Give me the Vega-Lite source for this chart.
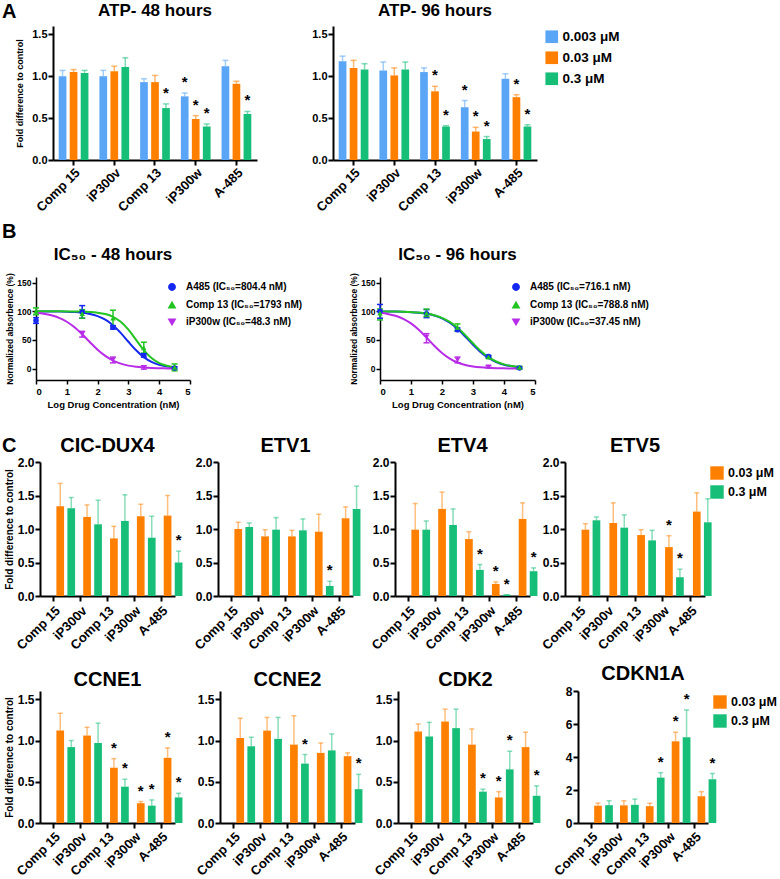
{
"$schema": "https://vega.github.io/schema/vega-lite/v6.json",
"background": "white",
"padding": {"left": 2, "top": 2, "right": 0, "bottom": 0},
"config": {
 "font": "Liberation Sans",
 "view": {"stroke": null},
 "bar": {"opacity": 1},
 "axis": {"grid": false, "domainColor": "black", "domainWidth": 2, "tickColor": "black", "tickWidth": 2, "tickSize": 5, "labelFont": "Liberation Sans", "labelFontWeight": "bold", "labelColor": "black", "titleFont": "Liberation Sans", "titleFontWeight": "bold", "titleColor": "black"},
 "title": {"font": "Liberation Sans", "fontWeight": "bold", "color": "black"},
 "legend": {"labelFont": "Liberation Sans", "labelFontWeight": "bold", "labelColor": "black", "labelLimit": 300, "symbolOpacity": 1}
},
"datasets": {
 "atp": [
  {"t":"48","d":"Comp 15","c":"0.003 μM","v":1.00,"e":1.07,"s":""},
  {"t":"48","d":"Comp 15","c":"0.03 μM","v":1.05,"e":1.08,"s":""},
  {"t":"48","d":"Comp 15","c":"0.3 μM","v":1.04,"e":1.07,"s":""},
  {"t":"48","d":"iP300v","c":"0.003 μM","v":1.00,"e":1.07,"s":""},
  {"t":"48","d":"iP300v","c":"0.03 μM","v":1.06,"e":1.12,"s":""},
  {"t":"48","d":"iP300v","c":"0.3 μM","v":1.11,"e":1.22,"s":""},
  {"t":"48","d":"Comp 13","c":"0.003 μM","v":0.93,"e":0.97,"s":""},
  {"t":"48","d":"Comp 13","c":"0.03 μM","v":0.93,"e":1.01,"s":""},
  {"t":"48","d":"Comp 13","c":"0.3 μM","v":0.62,"e":0.67,"s":"*"},
  {"t":"48","d":"iP300w","c":"0.003 μM","v":0.76,"e":0.80,"s":"*"},
  {"t":"48","d":"iP300w","c":"0.03 μM","v":0.49,"e":0.53,"s":"*"},
  {"t":"48","d":"iP300w","c":"0.3 μM","v":0.40,"e":0.43,"s":"*"},
  {"t":"48","d":"A-485","c":"0.003 μM","v":1.12,"e":1.19,"s":""},
  {"t":"48","d":"A-485","c":"0.03 μM","v":0.91,"e":0.94,"s":""},
  {"t":"48","d":"A-485","c":"0.3 μM","v":0.55,"e":0.58,"s":"*"},
  {"t":"96","d":"Comp 15","c":"0.003 μM","v":1.18,"e":1.24,"s":""},
  {"t":"96","d":"Comp 15","c":"0.03 μM","v":1.10,"e":1.19,"s":""},
  {"t":"96","d":"Comp 15","c":"0.3 μM","v":1.08,"e":1.15,"s":""},
  {"t":"96","d":"iP300v","c":"0.003 μM","v":1.07,"e":1.17,"s":""},
  {"t":"96","d":"iP300v","c":"0.03 μM","v":1.01,"e":1.10,"s":""},
  {"t":"96","d":"iP300v","c":"0.3 μM","v":1.08,"e":1.17,"s":""},
  {"t":"96","d":"Comp 13","c":"0.003 μM","v":1.05,"e":1.10,"s":""},
  {"t":"96","d":"Comp 13","c":"0.03 μM","v":0.82,"e":0.88,"s":"*"},
  {"t":"96","d":"Comp 13","c":"0.3 μM","v":0.40,"e":0.41,"s":"*"},
  {"t":"96","d":"iP300w","c":"0.003 μM","v":0.63,"e":0.71,"s":"*"},
  {"t":"96","d":"iP300w","c":"0.03 μM","v":0.34,"e":0.39,"s":"*"},
  {"t":"96","d":"iP300w","c":"0.3 μM","v":0.25,"e":0.28,"s":"*"},
  {"t":"96","d":"A-485","c":"0.003 μM","v":0.97,"e":1.03,"s":""},
  {"t":"96","d":"A-485","c":"0.03 μM","v":0.75,"e":0.78,"s":"*"},
  {"t":"96","d":"A-485","c":"0.3 μM","v":0.40,"e":0.42,"s":"*"}
 ],
 "icfit": [
  {"t":"48","l":"A485 (IC₅₀=804.4 nM)","x":0,"y":99.9},{"t":"48","l":"A485 (IC₅₀=804.4 nM)","x":0.25,"y":99.9},{"t":"48","l":"A485 (IC₅₀=804.4 nM)","x":0.5,"y":99.8},{"t":"48","l":"A485 (IC₅₀=804.4 nM)","x":0.75,"y":99.6},{"t":"48","l":"A485 (IC₅₀=804.4 nM)","x":1,"y":99.3},{"t":"48","l":"A485 (IC₅₀=804.4 nM)","x":1.25,"y":98.7},{"t":"48","l":"A485 (IC₅₀=804.4 nM)","x":1.5,"y":97.5},{"t":"48","l":"A485 (IC₅₀=804.4 nM)","x":1.75,"y":95.4},{"t":"48","l":"A485 (IC₅₀=804.4 nM)","x":2,"y":91.7},{"t":"48","l":"A485 (IC₅₀=804.4 nM)","x":2.25,"y":85.5},{"t":"48","l":"A485 (IC₅₀=804.4 nM)","x":2.5,"y":75.8},{"t":"48","l":"A485 (IC₅₀=804.4 nM)","x":2.75,"y":62.4},{"t":"48","l":"A485 (IC₅₀=804.4 nM)","x":3,"y":46.8},{"t":"48","l":"A485 (IC₅₀=804.4 nM)","x":3.25,"y":31.9},{"t":"48","l":"A485 (IC₅₀=804.4 nM)","x":3.5,"y":19.9},{"t":"48","l":"A485 (IC₅₀=804.4 nM)","x":3.75,"y":11.6},{"t":"48","l":"A485 (IC₅₀=804.4 nM)","x":4,"y":6.5},{"t":"48","l":"A485 (IC₅₀=804.4 nM)","x":4.25,"y":3.6},{"t":"48","l":"A485 (IC₅₀=804.4 nM)","x":4.5,"y":1.9},
  {"t":"48","l":"Comp 13 (IC₅₀=1793 nM)","x":0,"y":100},{"t":"48","l":"Comp 13 (IC₅₀=1793 nM)","x":0.5,"y":100},{"t":"48","l":"Comp 13 (IC₅₀=1793 nM)","x":1,"y":99.9},{"t":"48","l":"Comp 13 (IC₅₀=1793 nM)","x":1.25,"y":99.7},{"t":"48","l":"Comp 13 (IC₅₀=1793 nM)","x":1.5,"y":99.5},{"t":"48","l":"Comp 13 (IC₅₀=1793 nM)","x":1.75,"y":98.9},{"t":"48","l":"Comp 13 (IC₅₀=1793 nM)","x":2,"y":97.7},{"t":"48","l":"Comp 13 (IC₅₀=1793 nM)","x":2.25,"y":95.2},{"t":"48","l":"Comp 13 (IC₅₀=1793 nM)","x":2.5,"y":90.4},{"t":"48","l":"Comp 13 (IC₅₀=1793 nM)","x":2.75,"y":81.7},{"t":"48","l":"Comp 13 (IC₅₀=1793 nM)","x":3,"y":67.9},{"t":"48","l":"Comp 13 (IC₅₀=1793 nM)","x":3.25,"y":50},{"t":"48","l":"Comp 13 (IC₅₀=1793 nM)","x":3.5,"y":32.1},{"t":"48","l":"Comp 13 (IC₅₀=1793 nM)","x":3.75,"y":18.3},{"t":"48","l":"Comp 13 (IC₅₀=1793 nM)","x":4,"y":9.6},{"t":"48","l":"Comp 13 (IC₅₀=1793 nM)","x":4.25,"y":4.8},{"t":"48","l":"Comp 13 (IC₅₀=1793 nM)","x":4.5,"y":2.3},
  {"t":"48","l":"iP300w (IC₅₀=48.3 nM)","x":0,"y":97.6},{"t":"48","l":"iP300w (IC₅₀=48.3 nM)","x":0.25,"y":95.9},{"t":"48","l":"iP300w (IC₅₀=48.3 nM)","x":0.5,"y":93.1},{"t":"48","l":"iP300w (IC₅₀=48.3 nM)","x":0.75,"y":88.7},{"t":"48","l":"iP300w (IC₅₀=48.3 nM)","x":1,"y":81.8},{"t":"48","l":"iP300w (IC₅₀=48.3 nM)","x":1.25,"y":72.1},{"t":"48","l":"iP300w (IC₅₀=48.3 nM)","x":1.5,"y":59.8},{"t":"48","l":"iP300w (IC₅₀=48.3 nM)","x":1.75,"y":46.1},{"t":"48","l":"iP300w (IC₅₀=48.3 nM)","x":2,"y":33.0},{"t":"48","l":"iP300w (IC₅₀=48.3 nM)","x":2.25,"y":22.1},{"t":"48","l":"iP300w (IC₅₀=48.3 nM)","x":2.5,"y":14.0},{"t":"48","l":"iP300w (IC₅₀=48.3 nM)","x":2.75,"y":8.6},{"t":"48","l":"iP300w (IC₅₀=48.3 nM)","x":3,"y":5.1},{"t":"48","l":"iP300w (IC₅₀=48.3 nM)","x":3.25,"y":3.0},{"t":"48","l":"iP300w (IC₅₀=48.3 nM)","x":3.5,"y":1.8},{"t":"48","l":"iP300w (IC₅₀=48.3 nM)","x":3.75,"y":1.0},{"t":"48","l":"iP300w (IC₅₀=48.3 nM)","x":4,"y":0.6},{"t":"48","l":"iP300w (IC₅₀=48.3 nM)","x":4.25,"y":0.3},{"t":"48","l":"iP300w (IC₅₀=48.3 nM)","x":4.5,"y":0.2},
  {"t":"96","l":"A485 (IC₅₀=716.1 nM)","x":0,"y":99.9},{"t":"96","l":"A485 (IC₅₀=716.1 nM)","x":0.25,"y":99.8},{"t":"96","l":"A485 (IC₅₀=716.1 nM)","x":0.5,"y":99.6},{"t":"96","l":"A485 (IC₅₀=716.1 nM)","x":0.75,"y":99.2},{"t":"96","l":"A485 (IC₅₀=716.1 nM)","x":1,"y":98.6},{"t":"96","l":"A485 (IC₅₀=716.1 nM)","x":1.25,"y":97.6},{"t":"96","l":"A485 (IC₅₀=716.1 nM)","x":1.5,"y":95.8},{"t":"96","l":"A485 (IC₅₀=716.1 nM)","x":1.75,"y":92.7},{"t":"96","l":"A485 (IC₅₀=716.1 nM)","x":2,"y":87.7},{"t":"96","l":"A485 (IC₅₀=716.1 nM)","x":2.25,"y":80.1},{"t":"96","l":"A485 (IC₅₀=716.1 nM)","x":2.5,"y":69.4},{"t":"96","l":"A485 (IC₅₀=716.1 nM)","x":2.75,"y":56.0},{"t":"96","l":"A485 (IC₅₀=716.1 nM)","x":3,"y":41.7},{"t":"96","l":"A485 (IC₅₀=716.1 nM)","x":3.25,"y":28.7},{"t":"96","l":"A485 (IC₅₀=716.1 nM)","x":3.5,"y":18.5},{"t":"96","l":"A485 (IC₅₀=716.1 nM)","x":3.75,"y":11.3},{"t":"96","l":"A485 (IC₅₀=716.1 nM)","x":4,"y":6.7},{"t":"96","l":"A485 (IC₅₀=716.1 nM)","x":4.25,"y":3.9},{"t":"96","l":"A485 (IC₅₀=716.1 nM)","x":4.5,"y":2.2},
  {"t":"96","l":"Comp 13 (IC₅₀=788.8 nM)","x":0,"y":99.9},{"t":"96","l":"Comp 13 (IC₅₀=788.8 nM)","x":0.25,"y":99.8},{"t":"96","l":"Comp 13 (IC₅₀=788.8 nM)","x":0.5,"y":99.6},{"t":"96","l":"Comp 13 (IC₅₀=788.8 nM)","x":0.75,"y":99.3},{"t":"96","l":"Comp 13 (IC₅₀=788.8 nM)","x":1,"y":98.7},{"t":"96","l":"Comp 13 (IC₅₀=788.8 nM)","x":1.25,"y":97.8},{"t":"96","l":"Comp 13 (IC₅₀=788.8 nM)","x":1.5,"y":96.1},{"t":"96","l":"Comp 13 (IC₅₀=788.8 nM)","x":1.75,"y":93.3},{"t":"96","l":"Comp 13 (IC₅₀=788.8 nM)","x":2,"y":88.7},{"t":"96","l":"Comp 13 (IC₅₀=788.8 nM)","x":2.25,"y":81.6},{"t":"96","l":"Comp 13 (IC₅₀=788.8 nM)","x":2.5,"y":71.4},{"t":"96","l":"Comp 13 (IC₅₀=788.8 nM)","x":2.75,"y":58.4},{"t":"96","l":"Comp 13 (IC₅₀=788.8 nM)","x":3,"y":44.1},{"t":"96","l":"Comp 13 (IC₅₀=788.8 nM)","x":3.25,"y":30.7},{"t":"96","l":"Comp 13 (IC₅₀=788.8 nM)","x":3.5,"y":20.0},{"t":"96","l":"Comp 13 (IC₅₀=788.8 nM)","x":3.75,"y":12.3},{"t":"96","l":"Comp 13 (IC₅₀=788.8 nM)","x":4,"y":7.3},{"t":"96","l":"Comp 13 (IC₅₀=788.8 nM)","x":4.25,"y":4.3},{"t":"96","l":"Comp 13 (IC₅₀=788.8 nM)","x":4.5,"y":2.4},
  {"t":"96","l":"iP300w (IC₅₀=37.45 nM)","x":0,"y":97.4},{"t":"96","l":"iP300w (IC₅₀=37.45 nM)","x":0.25,"y":95.5},{"t":"96","l":"iP300w (IC₅₀=37.45 nM)","x":0.5,"y":92.2},{"t":"96","l":"iP300w (IC₅₀=37.45 nM)","x":0.75,"y":86.9},{"t":"96","l":"iP300w (IC₅₀=37.45 nM)","x":1,"y":78.9},{"t":"96","l":"iP300w (IC₅₀=37.45 nM)","x":1.25,"y":67.8},{"t":"96","l":"iP300w (IC₅₀=37.45 nM)","x":1.5,"y":54.2},{"t":"96","l":"iP300w (IC₅₀=37.45 nM)","x":1.75,"y":40.0},{"t":"96","l":"iP300w (IC₅₀=37.45 nM)","x":2,"y":27.2},{"t":"96","l":"iP300w (IC₅₀=37.45 nM)","x":2.25,"y":17.4},{"t":"96","l":"iP300w (IC₅₀=37.45 nM)","x":2.5,"y":10.6},{"t":"96","l":"iP300w (IC₅₀=37.45 nM)","x":2.75,"y":6.2},{"t":"96","l":"iP300w (IC₅₀=37.45 nM)","x":3,"y":3.6},{"t":"96","l":"iP300w (IC₅₀=37.45 nM)","x":3.25,"y":2.1},{"t":"96","l":"iP300w (IC₅₀=37.45 nM)","x":3.5,"y":1.2},{"t":"96","l":"iP300w (IC₅₀=37.45 nM)","x":3.75,"y":0.7},{"t":"96","l":"iP300w (IC₅₀=37.45 nM)","x":4,"y":0.4},{"t":"96","l":"iP300w (IC₅₀=37.45 nM)","x":4.25,"y":0.2},{"t":"96","l":"iP300w (IC₅₀=37.45 nM)","x":4.5,"y":0.1}
 ],
 "icpts": [
  {"t":"48","l":"A485 (IC₅₀=804.4 nM)","x":0,"y":84,"lo":79,"hi":89},
  {"t":"48","l":"A485 (IC₅₀=804.4 nM)","x":1.5,"y":99,"lo":88,"hi":110},
  {"t":"48","l":"A485 (IC₅₀=804.4 nM)","x":2.5,"y":72,"lo":69,"hi":75},
  {"t":"48","l":"A485 (IC₅₀=804.4 nM)","x":3.5,"y":23,"lo":20,"hi":26},
  {"t":"48","l":"A485 (IC₅₀=804.4 nM)","x":4.5,"y":1,"lo":-1,"hi":3},
  {"t":"48","l":"Comp 13 (IC₅₀=1793 nM)","x":0,"y":100,"lo":94,"hi":106},
  {"t":"48","l":"Comp 13 (IC₅₀=1793 nM)","x":1.5,"y":96,"lo":88,"hi":103},
  {"t":"48","l":"Comp 13 (IC₅₀=1793 nM)","x":2.5,"y":88,"lo":75,"hi":102},
  {"t":"48","l":"Comp 13 (IC₅₀=1793 nM)","x":3.5,"y":36,"lo":27,"hi":46},
  {"t":"48","l":"Comp 13 (IC₅₀=1793 nM)","x":4.5,"y":2,"lo":-4,"hi":8},
  {"t":"48","l":"iP300w (IC₅₀=48.3 nM)","x":1.5,"y":60,"lo":55,"hi":65},
  {"t":"48","l":"iP300w (IC₅₀=48.3 nM)","x":2.5,"y":15,"lo":10,"hi":20},
  {"t":"48","l":"iP300w (IC₅₀=48.3 nM)","x":3.5,"y":2,"lo":-1,"hi":5},
  {"t":"96","l":"A485 (IC₅₀=716.1 nM)","x":0,"y":100,"lo":88,"hi":112},
  {"t":"96","l":"A485 (IC₅₀=716.1 nM)","x":1.5,"y":96,"lo":89,"hi":103},
  {"t":"96","l":"A485 (IC₅₀=716.1 nM)","x":2.5,"y":68,"lo":65,"hi":71},
  {"t":"96","l":"A485 (IC₅₀=716.1 nM)","x":3.5,"y":21,"lo":19,"hi":23},
  {"t":"96","l":"A485 (IC₅₀=716.1 nM)","x":4.5,"y":1,"lo":-1,"hi":3},
  {"t":"96","l":"Comp 13 (IC₅₀=788.8 nM)","x":0,"y":97,"lo":85,"hi":104},
  {"t":"96","l":"Comp 13 (IC₅₀=788.8 nM)","x":1.5,"y":97,"lo":91,"hi":104},
  {"t":"96","l":"Comp 13 (IC₅₀=788.8 nM)","x":2.5,"y":72,"lo":66,"hi":78},
  {"t":"96","l":"Comp 13 (IC₅₀=788.8 nM)","x":3.5,"y":20,"lo":18,"hi":22},
  {"t":"96","l":"Comp 13 (IC₅₀=788.8 nM)","x":4.5,"y":2,"lo":0,"hi":4},
  {"t":"96","l":"iP300w (IC₅₀=37.45 nM)","x":1.5,"y":55,"lo":45,"hi":61},
  {"t":"96","l":"iP300w (IC₅₀=37.45 nM)","x":2.5,"y":15,"lo":10,"hi":20},
  {"t":"96","l":"iP300w (IC₅₀=37.45 nM)","x":3.5,"y":3,"lo":1,"hi":5}
 ],
 "gene": [
  {"g":"CIC-DUX4","d":"Comp 15","c":"0.03 μM","v":1.34,"e":1.68,"s":""},{"g":"CIC-DUX4","d":"Comp 15","c":"0.3 μM","v":1.31,"e":1.47,"s":""},
  {"g":"CIC-DUX4","d":"iP300v","c":"0.03 μM","v":1.18,"e":1.36,"s":""},{"g":"CIC-DUX4","d":"iP300v","c":"0.3 μM","v":1.07,"e":1.43,"s":""},
  {"g":"CIC-DUX4","d":"Comp 13","c":"0.03 μM","v":0.86,"e":1.04,"s":""},{"g":"CIC-DUX4","d":"Comp 13","c":"0.3 μM","v":1.12,"e":1.51,"s":""},
  {"g":"CIC-DUX4","d":"iP300w","c":"0.03 μM","v":1.19,"e":1.37,"s":""},{"g":"CIC-DUX4","d":"iP300w","c":"0.3 μM","v":0.87,"e":1.19,"s":""},
  {"g":"CIC-DUX4","d":"A-485","c":"0.03 μM","v":1.20,"e":1.50,"s":""},{"g":"CIC-DUX4","d":"A-485","c":"0.3 μM","v":0.50,"e":0.67,"s":"*"},
  {"g":"ETV1","d":"Comp 15","c":"0.03 μM","v":1.00,"e":1.10,"s":""},{"g":"ETV1","d":"Comp 15","c":"0.3 μM","v":1.03,"e":1.09,"s":""},
  {"g":"ETV1","d":"iP300v","c":"0.03 μM","v":0.89,"e":0.99,"s":""},{"g":"ETV1","d":"iP300v","c":"0.3 μM","v":0.99,"e":1.17,"s":""},
  {"g":"ETV1","d":"Comp 13","c":"0.03 μM","v":0.89,"e":0.98,"s":""},{"g":"ETV1","d":"Comp 13","c":"0.3 μM","v":0.98,"e":1.15,"s":""},
  {"g":"ETV1","d":"iP300w","c":"0.03 μM","v":0.96,"e":1.22,"s":""},{"g":"ETV1","d":"iP300w","c":"0.3 μM","v":0.15,"e":0.22,"s":"*"},
  {"g":"ETV1","d":"A-485","c":"0.03 μM","v":1.16,"e":1.33,"s":""},{"g":"ETV1","d":"A-485","c":"0.3 μM","v":1.30,"e":1.64,"s":""},
  {"g":"ETV4","d":"Comp 15","c":"0.03 μM","v":0.99,"e":1.38,"s":""},{"g":"ETV4","d":"Comp 15","c":"0.3 μM","v":0.99,"e":1.12,"s":""},
  {"g":"ETV4","d":"iP300v","c":"0.03 μM","v":1.30,"e":1.55,"s":""},{"g":"ETV4","d":"iP300v","c":"0.3 μM","v":1.06,"e":1.30,"s":""},
  {"g":"ETV4","d":"Comp 13","c":"0.03 μM","v":0.85,"e":0.96,"s":""},{"g":"ETV4","d":"Comp 13","c":"0.3 μM","v":0.39,"e":0.47,"s":"*"},
  {"g":"ETV4","d":"iP300w","c":"0.03 μM","v":0.18,"e":0.21,"s":"*"},{"g":"ETV4","d":"iP300w","c":"0.3 μM","v":0.02,"e":0.02,"s":"*"},
  {"g":"ETV4","d":"A-485","c":"0.03 μM","v":1.15,"e":1.39,"s":""},{"g":"ETV4","d":"A-485","c":"0.3 μM","v":0.37,"e":0.42,"s":"*"},
  {"g":"ETV5","d":"Comp 15","c":"0.03 μM","v":0.99,"e":1.08,"s":""},{"g":"ETV5","d":"Comp 15","c":"0.3 μM","v":1.13,"e":1.18,"s":""},
  {"g":"ETV5","d":"iP300v","c":"0.03 μM","v":1.09,"e":1.39,"s":""},{"g":"ETV5","d":"iP300v","c":"0.3 μM","v":1.02,"e":1.21,"s":""},
  {"g":"ETV5","d":"Comp 13","c":"0.03 μM","v":0.91,"e":0.99,"s":""},{"g":"ETV5","d":"Comp 13","c":"0.3 μM","v":0.83,"e":0.98,"s":""},
  {"g":"ETV5","d":"iP300w","c":"0.03 μM","v":0.73,"e":0.90,"s":"*"},{"g":"ETV5","d":"iP300w","c":"0.3 μM","v":0.28,"e":0.40,"s":"*"},
  {"g":"ETV5","d":"A-485","c":"0.03 μM","v":1.26,"e":1.54,"s":""},{"g":"ETV5","d":"A-485","c":"0.3 μM","v":1.10,"e":1.45,"s":""},
  {"g":"CCNE1","d":"Comp 15","c":"0.03 μM","v":1.12,"e":1.33,"s":""},{"g":"CCNE1","d":"Comp 15","c":"0.3 μM","v":0.92,"e":1.00,"s":""},
  {"g":"CCNE1","d":"iP300v","c":"0.03 μM","v":1.06,"e":1.16,"s":""},{"g":"CCNE1","d":"iP300v","c":"0.3 μM","v":0.97,"e":1.21,"s":""},
  {"g":"CCNE1","d":"Comp 13","c":"0.03 μM","v":0.67,"e":0.78,"s":"*"},{"g":"CCNE1","d":"Comp 13","c":"0.3 μM","v":0.44,"e":0.53,"s":"*"},
  {"g":"CCNE1","d":"iP300w","c":"0.03 μM","v":0.24,"e":0.26,"s":"*"},{"g":"CCNE1","d":"iP300w","c":"0.3 μM","v":0.21,"e":0.28,"s":"*"},
  {"g":"CCNE1","d":"A-485","c":"0.03 μM","v":0.79,"e":0.91,"s":"*"},{"g":"CCNE1","d":"A-485","c":"0.3 μM","v":0.31,"e":0.36,"s":"*"},
  {"g":"CCNE2","d":"Comp 15","c":"0.03 μM","v":1.03,"e":1.27,"s":""},{"g":"CCNE2","d":"Comp 15","c":"0.3 μM","v":0.93,"e":1.04,"s":""},
  {"g":"CCNE2","d":"iP300v","c":"0.03 μM","v":1.12,"e":1.28,"s":""},{"g":"CCNE2","d":"iP300v","c":"0.3 μM","v":1.02,"e":1.28,"s":""},
  {"g":"CCNE2","d":"Comp 13","c":"0.03 μM","v":0.95,"e":1.30,"s":""},{"g":"CCNE2","d":"Comp 13","c":"0.3 μM","v":0.72,"e":0.83,"s":"*"},
  {"g":"CCNE2","d":"iP300w","c":"0.03 μM","v":0.85,"e":0.97,"s":""},{"g":"CCNE2","d":"iP300w","c":"0.3 μM","v":0.88,"e":1.08,"s":""},
  {"g":"CCNE2","d":"A-485","c":"0.03 μM","v":0.81,"e":0.85,"s":""},{"g":"CCNE2","d":"A-485","c":"0.3 μM","v":0.41,"e":0.59,"s":"*"},
  {"g":"CDK2","d":"Comp 15","c":"0.03 μM","v":1.11,"e":1.20,"s":""},{"g":"CDK2","d":"Comp 15","c":"0.3 μM","v":1.05,"e":1.22,"s":""},
  {"g":"CDK2","d":"iP300v","c":"0.03 μM","v":1.23,"e":1.38,"s":""},{"g":"CDK2","d":"iP300v","c":"0.3 μM","v":1.15,"e":1.38,"s":""},
  {"g":"CDK2","d":"Comp 13","c":"0.03 μM","v":0.95,"e":1.14,"s":""},{"g":"CDK2","d":"Comp 13","c":"0.3 μM","v":0.38,"e":0.41,"s":"*"},
  {"g":"CDK2","d":"iP300w","c":"0.03 μM","v":0.31,"e":0.38,"s":"*"},{"g":"CDK2","d":"iP300w","c":"0.3 μM","v":0.65,"e":0.87,"s":"*"},
  {"g":"CDK2","d":"A-485","c":"0.03 μM","v":0.92,"e":1.10,"s":""},{"g":"CDK2","d":"A-485","c":"0.3 μM","v":0.33,"e":0.45,"s":"*"},
  {"g":"CDKN1A","d":"Comp 15","c":"0.03 μM","v":1.05,"e":1.20,"s":""},{"g":"CDKN1A","d":"Comp 15","c":"0.3 μM","v":1.08,"e":1.35,"s":""},
  {"g":"CDKN1A","d":"iP300v","c":"0.03 μM","v":1.07,"e":1.35,"s":""},{"g":"CDKN1A","d":"iP300v","c":"0.3 μM","v":1.10,"e":1.45,"s":""},
  {"g":"CDKN1A","d":"Comp 13","c":"0.03 μM","v":1.02,"e":1.20,"s":""},{"g":"CDKN1A","d":"Comp 13","c":"0.3 μM","v":2.75,"e":3.05,"s":"*"},
  {"g":"CDKN1A","d":"iP300w","c":"0.03 μM","v":4.95,"e":5.50,"s":"*"},{"g":"CDKN1A","d":"iP300w","c":"0.3 μM","v":5.20,"e":6.85,"s":"*"},
  {"g":"CDKN1A","d":"A-485","c":"0.03 μM","v":1.62,"e":1.90,"s":""},{"g":"CDKN1A","d":"A-485","c":"0.3 μM","v":2.65,"e":3.00,"s":"*"}
 ]
},
"spacing": 27,
"vconcat": [
 {"spacing": 6, "resolve": {"scale": {"color": "independent", "shape": "independent"}, "legend": {"color": "independent", "shape": "independent"}},
  "vconcat": [
  {"title": {"text": "A", "anchor": "start", "frame": "group", "fontSize": 20, "offset": -20, "dx": -34},
   "spacing": 46,
   "resolve": {"scale": {"color": "independent"}, "legend": {"color": "independent"}},
   "hconcat": [
    {"width": 221, "height": 134,
     "title": {"text": "ATP- 48 hours", "fontSize": 17, "offset": 6, "frame": "group", "dx": 8.5},
     "data": {"name": "atp"},
     "transform": [{"filter": "datum.t == '48'"}],
     "resolve": {"axis": {"y": "independent"}},
     "encoding": {
      "x": {"field": "d", "type": "nominal", "sort": ["Comp 15","iP300v","Comp 13","iP300w","A-485"], "scale": {"paddingInner": 0.27, "paddingOuter": 0.14, "rangeMin": 17}, "axis": {"title": null, "labelAngle": -45, "labelAlign": "right", "labelBaseline": "top", "labelFontSize": 13, "labelPadding": 1}},
      "xOffset": {"field": "c", "type": "nominal", "sort": ["0.003 μM","0.03 μM","0.3 μM"], "scale": {"paddingInner": 0.3}},
      "color": {"field": "c", "type": "nominal", "scale": {"domain": ["0.003 μM","0.03 μM","0.3 μM"], "range": ["#5AA5F5","#FF8000","#16BE78"]}, "legend": null}
     },
     "layer": [
      {"mark": {"type": "bar", "opacity": 1}, "encoding": {"y": {"field": "v", "type": "quantitative", "scale": {"domain": [0, 1.5]}, "axis": {"title": "Fold difference to control", "offset": -17, "values": [0, 0.5, 1, 1.5], "format": ".1f", "labelFontSize": 11, "labelPadding": 1, "titleFontSize": 9, "titlePadding": 7}}}},
      {"mark": {"type": "rule", "strokeWidth": 1.5, "opacity": 0.55}, "encoding": {"y": {"field": "v", "type": "quantitative", "axis": null}, "y2": {"field": "e"}}},
      {"mark": {"type": "tick", "thickness": 1.5, "size": 6, "opacity": 0.55}, "encoding": {"y": {"field": "e", "type": "quantitative", "axis": null}}},
      {"mark": {"type": "text", "fontSize": 15, "fontWeight": "bold", "baseline": "alphabetic", "dy": -6}, "encoding": {"y": {"field": "e", "type": "quantitative", "axis": null}, "text": {"field": "s"}, "color": {"value": "black"}}}
     ]},
    {"width": 234, "height": 134,
     "title": {"text": "ATP- 96 hours", "fontSize": 17, "offset": 6, "frame": "group", "dx": 15},
     "data": {"name": "atp"},
     "transform": [{"filter": "datum.t == '96'"}],
     "resolve": {"axis": {"y": "independent"}},
     "encoding": {
      "x": {"field": "d", "type": "nominal", "sort": ["Comp 15","iP300v","Comp 13","iP300w","A-485"], "scale": {"paddingInner": 0.27, "paddingOuter": 0.14, "rangeMin": 30}, "axis": {"title": null, "labelAngle": -45, "labelAlign": "right", "labelBaseline": "top", "labelFontSize": 13, "labelPadding": 1}},
      "xOffset": {"field": "c", "type": "nominal", "sort": ["0.003 μM","0.03 μM","0.3 μM"], "scale": {"paddingInner": 0.3}},
      "color": {"field": "c", "type": "nominal", "scale": {"domain": ["0.003 μM","0.03 μM","0.3 μM"], "range": ["#5AA5F5","#FF8000","#16BE78"]}, "legend": {"title": null, "orient": "right", "offset": 4, "padding": 4, "symbolType": "square", "symbolSize": 160, "symbolStrokeWidth": 0, "symbolOpacity": 1, "labelFontSize": 13.5, "rowPadding": 6}}
     },
     "layer": [
      {"mark": {"type": "bar", "opacity": 1}, "encoding": {"y": {"field": "v", "type": "quantitative", "scale": {"domain": [0, 1.5]}, "axis": {"title": null, "offset": -30, "values": [0, 0.5, 1, 1.5], "format": ".1f", "labelFontSize": 11, "labelPadding": 1}}}},
      {"mark": {"type": "rule", "strokeWidth": 1.5, "opacity": 0.55}, "encoding": {"y": {"field": "v", "type": "quantitative", "axis": null}, "y2": {"field": "e"}}},
      {"mark": {"type": "tick", "thickness": 1.5, "size": 6, "opacity": 0.55}, "encoding": {"y": {"field": "e", "type": "quantitative", "axis": null}}},
      {"mark": {"type": "text", "fontSize": 15, "fontWeight": "bold", "baseline": "alphabetic", "dy": -6}, "encoding": {"y": {"field": "e", "type": "quantitative", "axis": null}, "text": {"field": "s"}, "color": {"value": "black"}}}
     ]}
   ]},
  {"title": {"text": "B", "anchor": "start", "frame": "group", "fontSize": 20, "offset": 4, "dx": -34},
   "spacing": 14,
   "resolve": {"scale": {"color": "independent", "shape": "independent"}, "legend": {"color": "independent", "shape": "independent"}},
   "hconcat": [
    {"width": 290, "height": 103,
     "title": {"text": "IC₅₀ - 48 hours", "fontSize": 17, "offset": 9, "frame": "group", "dx": -68},
     "resolve": {"axis": {"y": "independent"}},
     "encoding": {
      "x": {"field": "x", "type": "quantitative", "scale": {"domain": [0, 5], "rangeMax": 154}, "axis": {"title": "Log Drug Concentration (nM)", "values": [0,1,2,3,4,5], "labelFontSize": 9.5, "titleFontSize": 9.5, "tickSize": 4, "domainWidth": 1.5, "tickWidth": 1.5}},
      "color": {"field": "l", "type": "nominal", "scale": {"domain": ["A485 (IC₅₀=804.4 nM)","Comp 13 (IC₅₀=1793 nM)","iP300w (IC₅₀=48.3 nM)"], "range": ["#1428F0","#22C422","#B82CE8"]}, "legend": {"title": null, "orient": "none", "legendX": 131, "legendY": 5, "padding": 0, "labelFontSize": 10, "labelOffset": 9, "symbolSize": 40, "rowPadding": 5}}
     },
     "layer": [
      {"data": {"name": "icfit"}, "transform": [{"filter": "datum.t == '48'"}], "mark": {"type": "line", "strokeWidth": 2, "interpolate": "monotone"},
       "encoding": {"y": {"field": "y", "type": "quantitative", "scale": {"domain": [-9, 150]}, "axis": {"title": "Normalized absorbence (%)", "values": [0, 50, 100, 150], "labelFontSize": 8.5, "titleFontSize": 8.5, "titlePadding": 2, "labelPadding": 1, "tickSize": 4, "domainWidth": 1.5, "tickWidth": 1.5}}}},
      {"data": {"name": "icpts"}, "transform": [{"filter": "datum.t == '48'"}], "mark": {"type": "rule", "strokeWidth": 1.5},
       "encoding": {"y": {"field": "lo", "type": "quantitative", "axis": null}, "y2": {"field": "hi"}}},
      {"data": {"name": "icpts"}, "transform": [{"filter": "datum.t == '48'"}], "mark": {"type": "tick", "thickness": 1.5, "size": 6, "orient": "horizontal", "opacity": 1},
       "encoding": {"y": {"field": "lo", "type": "quantitative", "axis": null}}},
      {"data": {"name": "icpts"}, "transform": [{"filter": "datum.t == '48'"}], "mark": {"type": "tick", "thickness": 1.5, "size": 6, "orient": "horizontal", "opacity": 1},
       "encoding": {"y": {"field": "hi", "type": "quantitative", "axis": null}}},
      {"data": {"name": "icpts"}, "transform": [{"filter": "datum.t == '48'"}], "mark": {"type": "point", "filled": true, "size": 30, "opacity": 1},
       "encoding": {"y": {"field": "y", "type": "quantitative", "axis": null}, "shape": {"field": "l", "type": "nominal", "scale": {"domain": ["A485 (IC₅₀=804.4 nM)","Comp 13 (IC₅₀=1793 nM)","iP300w (IC₅₀=48.3 nM)"], "range": ["circle","triangle-up","triangle-down"]}, "legend": {"title": null, "orient": "none", "legendX": 131, "legendY": 5, "padding": 0, "labelFontSize": 10, "labelOffset": 9, "symbolSize": 40, "rowPadding": 5}}}}
     ]},
    {"width": 195, "height": 103,
     "title": {"text": "IC₅₀ - 96 hours", "fontSize": 17, "offset": 9, "frame": "group", "dx": 20},
     "resolve": {"axis": {"y": "independent"}},
     "encoding": {
      "x": {"field": "x", "type": "quantitative", "scale": {"domain": [0, 5], "rangeMin": 40}, "axis": {"title": "Log Drug Concentration (nM)", "values": [0,1,2,3,4,5], "labelFontSize": 9.5, "titleFontSize": 9.5, "tickSize": 4, "domainWidth": 1.5, "tickWidth": 1.5}},
      "color": {"field": "l", "type": "nominal", "scale": {"domain": ["A485 (IC₅₀=716.1 nM)","Comp 13 (IC₅₀=788.8 nM)","iP300w (IC₅₀=37.45 nM)"], "range": ["#1428F0","#22C422","#B82CE8"]}, "legend": {"title": null, "orient": "none", "legendX": 171, "legendY": 5, "padding": 0, "labelFontSize": 10, "labelOffset": 9, "symbolSize": 40, "rowPadding": 5}}
     },
     "layer": [
      {"data": {"name": "icfit"}, "transform": [{"filter": "datum.t == '96'"}], "mark": {"type": "line", "strokeWidth": 2, "interpolate": "monotone"},
       "encoding": {"y": {"field": "y", "type": "quantitative", "scale": {"domain": [-9, 150]}, "axis": {"title": "Normalized absorbence (%)", "offset": -40, "values": [0, 50, 100, 150], "labelFontSize": 8.5, "titleFontSize": 8.5, "titlePadding": 2, "labelPadding": 1, "tickSize": 4, "domainWidth": 1.5, "tickWidth": 1.5}}}},
      {"data": {"name": "icpts"}, "transform": [{"filter": "datum.t == '96'"}], "mark": {"type": "rule", "strokeWidth": 1.5},
       "encoding": {"y": {"field": "lo", "type": "quantitative", "axis": null}, "y2": {"field": "hi"}}},
      {"data": {"name": "icpts"}, "transform": [{"filter": "datum.t == '96'"}], "mark": {"type": "tick", "thickness": 1.5, "size": 6, "orient": "horizontal", "opacity": 1},
       "encoding": {"y": {"field": "lo", "type": "quantitative", "axis": null}}},
      {"data": {"name": "icpts"}, "transform": [{"filter": "datum.t == '96'"}], "mark": {"type": "tick", "thickness": 1.5, "size": 6, "orient": "horizontal", "opacity": 1},
       "encoding": {"y": {"field": "hi", "type": "quantitative", "axis": null}}},
      {"data": {"name": "icpts"}, "transform": [{"filter": "datum.t == '96'"}], "mark": {"type": "point", "filled": true, "size": 30, "opacity": 1},
       "encoding": {"y": {"field": "y", "type": "quantitative", "axis": null}, "shape": {"field": "l", "type": "nominal", "scale": {"domain": ["A485 (IC₅₀=716.1 nM)","Comp 13 (IC₅₀=788.8 nM)","iP300w (IC₅₀=37.45 nM)"], "range": ["circle","triangle-up","triangle-down"]}, "legend": {"title": null, "orient": "none", "legendX": 171, "legendY": 5, "padding": 0, "labelFontSize": 10, "labelOffset": 9, "symbolSize": 40, "rowPadding": 5}}}}
     ]}
   ]}
  ]},
 {"spacing": 11, "resolve": {"scale": {"color": "independent"}, "legend": {"color": "independent"}},
  "vconcat": [
  {"title": {"text": "C", "anchor": "start", "frame": "group", "fontSize": 20, "offset": -20, "dx": -34},
   "spacing": 0,
   "resolve": {"scale": {"color": "independent"}, "legend": {"color": "independent"}},
   "hconcat": [
    {"width": 139, "height": 134, "title": {"text": "CIC-DUX4", "fontSize": 20, "offset": 0, "frame": "group", "dx": 2}, "data": {"name": "gene"}, "transform": [{"filter": "datum.g == 'CIC-DUX4'"}],
     "resolve": {"axis": {"y": "independent"}},
     "encoding": {"x": {"field": "d", "type": "nominal", "sort": ["Comp 15","iP300v","Comp 13","iP300w","A-485"], "scale": {"paddingInner": 0.37, "paddingOuter": 0.2, "rangeMin": 4}, "axis": {"title": null, "labelAngle": -45, "labelAlign": "right", "labelBaseline": "top", "labelFontSize": 13, "labelPadding": 3}},
      "xOffset": {"field": "c", "type": "nominal", "sort": ["0.03 μM","0.3 μM"], "scale": {"paddingInner": 0.3}},
      "color": {"field": "c", "type": "nominal", "scale": {"domain": ["0.03 μM","0.3 μM"], "range": ["#FF8000","#16BE78"]}, "legend": null}},
     "layer": [
      {"mark": {"type": "bar", "opacity": 1}, "encoding": {"y": {"field": "v", "type": "quantitative", "scale": {"domain": [0, 2]}, "axis": {"title": "Fold difference to control", "offset": -4, "values": [0, 0.5, 1, 1.5, 2], "format": ".1f", "labelFontSize": 12, "labelPadding": 1, "titleFontSize": 10, "titlePadding": 3}}}},
      {"mark": {"type": "rule", "strokeWidth": 1.5, "opacity": 0.5}, "encoding": {"y": {"field": "v", "type": "quantitative", "axis": null}, "y2": {"field": "e"}}},
      {"mark": {"type": "tick", "thickness": 1.5, "size": 5, "opacity": 0.5}, "encoding": {"y": {"field": "e", "type": "quantitative", "axis": null}}},
      {"mark": {"type": "text", "fontSize": 15, "fontWeight": "bold", "baseline": "alphabetic", "dy": -6}, "encoding": {"y": {"field": "e", "type": "quantitative", "axis": null}, "text": {"field": "s"}, "color": {"value": "black"}}}
     ]},
    {"width": 170, "height": 134, "title": {"text": "ETV1", "fontSize": 20, "offset": 0, "frame": "group", "dx": 17.5}, "data": {"name": "gene"}, "transform": [{"filter": "datum.g == 'ETV1'"}],
     "resolve": {"axis": {"y": "independent"}},
     "encoding": {"x": {"field": "d", "type": "nominal", "sort": ["Comp 15","iP300v","Comp 13","iP300w","A-485"], "scale": {"paddingInner": 0.37, "paddingOuter": 0.2, "rangeMin": 35}, "axis": {"title": null, "labelAngle": -45, "labelAlign": "right", "labelBaseline": "top", "labelFontSize": 13, "labelPadding": 3}},
      "xOffset": {"field": "c", "type": "nominal", "sort": ["0.03 μM","0.3 μM"], "scale": {"paddingInner": 0.3}},
      "color": {"field": "c", "type": "nominal", "scale": {"domain": ["0.03 μM","0.3 μM"], "range": ["#FF8000","#16BE78"]}, "legend": null}},
     "layer": [
      {"mark": {"type": "bar", "opacity": 1}, "encoding": {"y": {"field": "v", "type": "quantitative", "scale": {"domain": [0, 2]}, "axis": {"title": null, "offset": -35, "values": [0, 0.5, 1, 1.5, 2], "format": ".1f", "labelFontSize": 12, "labelPadding": 1}}}},
      {"mark": {"type": "rule", "strokeWidth": 1.5, "opacity": 0.5}, "encoding": {"y": {"field": "v", "type": "quantitative", "axis": null}, "y2": {"field": "e"}}},
      {"mark": {"type": "tick", "thickness": 1.5, "size": 5, "opacity": 0.5}, "encoding": {"y": {"field": "e", "type": "quantitative", "axis": null}}},
      {"mark": {"type": "text", "fontSize": 15, "fontWeight": "bold", "baseline": "alphabetic", "dy": -6}, "encoding": {"y": {"field": "e", "type": "quantitative", "axis": null}, "text": {"field": "s"}, "color": {"value": "black"}}}
     ]},
    {"width": 169, "height": 134, "title": {"text": "ETV4", "fontSize": 20, "offset": 0, "frame": "group", "dx": 17}, "data": {"name": "gene"}, "transform": [{"filter": "datum.g == 'ETV4'"}],
     "resolve": {"axis": {"y": "independent"}},
     "encoding": {"x": {"field": "d", "type": "nominal", "sort": ["Comp 15","iP300v","Comp 13","iP300w","A-485"], "scale": {"paddingInner": 0.37, "paddingOuter": 0.2, "rangeMin": 34}, "axis": {"title": null, "labelAngle": -45, "labelAlign": "right", "labelBaseline": "top", "labelFontSize": 13, "labelPadding": 3}},
      "xOffset": {"field": "c", "type": "nominal", "sort": ["0.03 μM","0.3 μM"], "scale": {"paddingInner": 0.3}},
      "color": {"field": "c", "type": "nominal", "scale": {"domain": ["0.03 μM","0.3 μM"], "range": ["#FF8000","#16BE78"]}, "legend": null}},
     "layer": [
      {"mark": {"type": "bar", "opacity": 1}, "encoding": {"y": {"field": "v", "type": "quantitative", "scale": {"domain": [0, 2]}, "axis": {"title": null, "offset": -34, "values": [0, 0.5, 1, 1.5, 2], "format": ".1f", "labelFontSize": 12, "labelPadding": 1}}}},
      {"mark": {"type": "rule", "strokeWidth": 1.5, "opacity": 0.5}, "encoding": {"y": {"field": "v", "type": "quantitative", "axis": null}, "y2": {"field": "e"}}},
      {"mark": {"type": "tick", "thickness": 1.5, "size": 5, "opacity": 0.5}, "encoding": {"y": {"field": "e", "type": "quantitative", "axis": null}}},
      {"mark": {"type": "text", "fontSize": 15, "fontWeight": "bold", "baseline": "alphabetic", "dy": -6}, "encoding": {"y": {"field": "e", "type": "quantitative", "axis": null}, "text": {"field": "s"}, "color": {"value": "black"}}}
     ]},
    {"width": 167, "height": 134, "title": {"text": "ETV5", "fontSize": 20, "offset": 0, "frame": "group", "dx": 13.5}, "data": {"name": "gene"}, "transform": [{"filter": "datum.g == 'ETV5'"}],
     "resolve": {"axis": {"y": "independent"}},
     "encoding": {"x": {"field": "d", "type": "nominal", "sort": ["Comp 15","iP300v","Comp 13","iP300w","A-485"], "scale": {"paddingInner": 0.37, "paddingOuter": 0.2, "rangeMin": 27}, "axis": {"title": null, "labelAngle": -45, "labelAlign": "right", "labelBaseline": "top", "labelFontSize": 13, "labelPadding": 3}},
      "xOffset": {"field": "c", "type": "nominal", "sort": ["0.03 μM","0.3 μM"], "scale": {"paddingInner": 0.3}},
      "color": {"field": "c", "type": "nominal", "scale": {"domain": ["0.03 μM","0.3 μM"], "range": ["#FF8000","#16BE78"]}, "legend": {"title": null, "orient": "right", "offset": 1, "padding": 4, "symbolType": "square", "symbolSize": 180, "symbolStrokeWidth": 0, "symbolOpacity": 1, "labelFontSize": 12.5, "rowPadding": 5}}},
     "layer": [
      {"mark": {"type": "bar", "opacity": 1}, "encoding": {"y": {"field": "v", "type": "quantitative", "scale": {"domain": [0, 2]}, "axis": {"title": null, "offset": -27, "values": [0, 0.5, 1, 1.5, 2], "format": ".1f", "labelFontSize": 12, "labelPadding": 1}}}},
      {"mark": {"type": "rule", "strokeWidth": 1.5, "opacity": 0.5}, "encoding": {"y": {"field": "v", "type": "quantitative", "axis": null}, "y2": {"field": "e"}}},
      {"mark": {"type": "tick", "thickness": 1.5, "size": 5, "opacity": 0.5}, "encoding": {"y": {"field": "e", "type": "quantitative", "axis": null}}},
      {"mark": {"type": "text", "fontSize": 15, "fontWeight": "bold", "baseline": "alphabetic", "dy": -6}, "encoding": {"y": {"field": "e", "type": "quantitative", "axis": null}, "text": {"field": "s"}, "color": {"value": "black"}}}
     ]}
   ]},
  {"spacing": 0,
   "resolve": {"scale": {"color": "independent"}, "legend": {"color": "independent"}},
   "hconcat": [
    {"width": 139, "height": 132, "title": {"text": "CCNE1", "fontSize": 20, "offset": 1, "frame": "group", "dx": 2}, "data": {"name": "gene"}, "transform": [{"filter": "datum.g == 'CCNE1'"}],
     "resolve": {"axis": {"y": "independent"}},
     "encoding": {"x": {"field": "d", "type": "nominal", "sort": ["Comp 15","iP300v","Comp 13","iP300w","A-485"], "scale": {"paddingInner": 0.37, "paddingOuter": 0.2, "rangeMin": 4}, "axis": {"title": null, "labelAngle": -45, "labelAlign": "right", "labelBaseline": "top", "labelFontSize": 13, "labelPadding": 2}},
      "xOffset": {"field": "c", "type": "nominal", "sort": ["0.03 μM","0.3 μM"], "scale": {"paddingInner": 0.3}},
      "color": {"field": "c", "type": "nominal", "scale": {"domain": ["0.03 μM","0.3 μM"], "range": ["#FF8000","#16BE78"]}, "legend": null}},
     "layer": [
      {"mark": {"type": "bar", "opacity": 1}, "encoding": {"y": {"field": "v", "type": "quantitative", "scale": {"domain": [0, 1.5]}, "axis": {"title": "Fold difference to control", "offset": -4, "values": [0, 0.5, 1, 1.5], "format": ".1f", "labelFontSize": 12, "labelPadding": 1, "titleFontSize": 10, "titlePadding": 3}}}},
      {"mark": {"type": "rule", "strokeWidth": 1.5, "opacity": 0.5}, "encoding": {"y": {"field": "v", "type": "quantitative", "axis": null}, "y2": {"field": "e"}}},
      {"mark": {"type": "tick", "thickness": 1.5, "size": 5, "opacity": 0.5}, "encoding": {"y": {"field": "e", "type": "quantitative", "axis": null}}},
      {"mark": {"type": "text", "fontSize": 15, "fontWeight": "bold", "baseline": "alphabetic", "dy": -6}, "encoding": {"y": {"field": "e", "type": "quantitative", "axis": null}, "text": {"field": "s"}, "color": {"value": "black"}}}
     ]},
    {"width": 172, "height": 132, "title": {"text": "CCNE2", "fontSize": 20, "offset": 1, "frame": "group", "dx": 18.5}, "data": {"name": "gene"}, "transform": [{"filter": "datum.g == 'CCNE2'"}],
     "resolve": {"axis": {"y": "independent"}},
     "encoding": {"x": {"field": "d", "type": "nominal", "sort": ["Comp 15","iP300v","Comp 13","iP300w","A-485"], "scale": {"paddingInner": 0.37, "paddingOuter": 0.2, "rangeMin": 37}, "axis": {"title": null, "labelAngle": -45, "labelAlign": "right", "labelBaseline": "top", "labelFontSize": 13, "labelPadding": 2}},
      "xOffset": {"field": "c", "type": "nominal", "sort": ["0.03 μM","0.3 μM"], "scale": {"paddingInner": 0.3}},
      "color": {"field": "c", "type": "nominal", "scale": {"domain": ["0.03 μM","0.3 μM"], "range": ["#FF8000","#16BE78"]}, "legend": null}},
     "layer": [
      {"mark": {"type": "bar", "opacity": 1}, "encoding": {"y": {"field": "v", "type": "quantitative", "scale": {"domain": [0, 1.5]}, "axis": {"title": null, "offset": -37, "values": [0, 0.5, 1, 1.5], "format": ".1f", "labelFontSize": 12, "labelPadding": 1}}}},
      {"mark": {"type": "rule", "strokeWidth": 1.5, "opacity": 0.5}, "encoding": {"y": {"field": "v", "type": "quantitative", "axis": null}, "y2": {"field": "e"}}},
      {"mark": {"type": "tick", "thickness": 1.5, "size": 5, "opacity": 0.5}, "encoding": {"y": {"field": "e", "type": "quantitative", "axis": null}}},
      {"mark": {"type": "text", "fontSize": 15, "fontWeight": "bold", "baseline": "alphabetic", "dy": -6}, "encoding": {"y": {"field": "e", "type": "quantitative", "axis": null}, "text": {"field": "s"}, "color": {"value": "black"}}}
     ]},
    {"width": 170, "height": 132, "title": {"text": "CDK2", "fontSize": 20, "offset": 1, "frame": "group", "dx": 17.5}, "data": {"name": "gene"}, "transform": [{"filter": "datum.g == 'CDK2'"}],
     "resolve": {"axis": {"y": "independent"}},
     "encoding": {"x": {"field": "d", "type": "nominal", "sort": ["Comp 15","iP300v","Comp 13","iP300w","A-485"], "scale": {"paddingInner": 0.37, "paddingOuter": 0.2, "rangeMin": 35}, "axis": {"title": null, "labelAngle": -45, "labelAlign": "right", "labelBaseline": "top", "labelFontSize": 13, "labelPadding": 2}},
      "xOffset": {"field": "c", "type": "nominal", "sort": ["0.03 μM","0.3 μM"], "scale": {"paddingInner": 0.3}},
      "color": {"field": "c", "type": "nominal", "scale": {"domain": ["0.03 μM","0.3 μM"], "range": ["#FF8000","#16BE78"]}, "legend": null}},
     "layer": [
      {"mark": {"type": "bar", "opacity": 1}, "encoding": {"y": {"field": "v", "type": "quantitative", "scale": {"domain": [0, 1.5]}, "axis": {"title": null, "offset": -35, "values": [0, 0.5, 1, 1.5], "format": ".1f", "labelFontSize": 12, "labelPadding": 1}}}},
      {"mark": {"type": "rule", "strokeWidth": 1.5, "opacity": 0.5}, "encoding": {"y": {"field": "v", "type": "quantitative", "axis": null}, "y2": {"field": "e"}}},
      {"mark": {"type": "tick", "thickness": 1.5, "size": 5, "opacity": 0.5}, "encoding": {"y": {"field": "e", "type": "quantitative", "axis": null}}},
      {"mark": {"type": "text", "fontSize": 15, "fontWeight": "bold", "baseline": "alphabetic", "dy": -6}, "encoding": {"y": {"field": "e", "type": "quantitative", "axis": null}, "text": {"field": "s"}, "color": {"value": "black"}}}
     ]},
    {"width": 167, "height": 132, "title": {"text": "CDKN1A", "fontSize": 20, "offset": 1, "frame": "group", "dx": 18.5}, "data": {"name": "gene"}, "transform": [{"filter": "datum.g == 'CDKN1A'"}],
     "resolve": {"axis": {"y": "independent"}},
     "encoding": {"x": {"field": "d", "type": "nominal", "sort": ["Comp 15","iP300v","Comp 13","iP300w","A-485"], "scale": {"paddingInner": 0.37, "paddingOuter": 0.2, "rangeMin": 37}, "axis": {"title": null, "labelAngle": -45, "labelAlign": "right", "labelBaseline": "top", "labelFontSize": 13, "labelPadding": 2}},
      "xOffset": {"field": "c", "type": "nominal", "sort": ["0.03 μM","0.3 μM"], "scale": {"paddingInner": 0.3}},
      "color": {"field": "c", "type": "nominal", "scale": {"domain": ["0.03 μM","0.3 μM"], "range": ["#FF8000","#16BE78"]}, "legend": {"title": null, "orient": "right", "offset": 1, "padding": 4, "symbolType": "square", "symbolSize": 180, "symbolStrokeWidth": 0, "symbolOpacity": 1, "labelFontSize": 12.5, "rowPadding": 5}}},
     "layer": [
      {"mark": {"type": "bar", "opacity": 1}, "encoding": {"y": {"field": "v", "type": "quantitative", "scale": {"domain": [0, 8]}, "axis": {"title": null, "offset": -37, "values": [0, 2, 4, 6, 8], "format": "d", "labelFontSize": 12, "labelPadding": 1}}}},
      {"mark": {"type": "rule", "strokeWidth": 1.5, "opacity": 0.5}, "encoding": {"y": {"field": "v", "type": "quantitative", "axis": null}, "y2": {"field": "e"}}},
      {"mark": {"type": "tick", "thickness": 1.5, "size": 5, "opacity": 0.5}, "encoding": {"y": {"field": "e", "type": "quantitative", "axis": null}}},
      {"mark": {"type": "text", "fontSize": 15, "fontWeight": "bold", "baseline": "alphabetic", "dy": -6}, "encoding": {"y": {"field": "e", "type": "quantitative", "axis": null}, "text": {"field": "s"}, "color": {"value": "black"}}}
     ]}
   ]}
  ]}
]
}
